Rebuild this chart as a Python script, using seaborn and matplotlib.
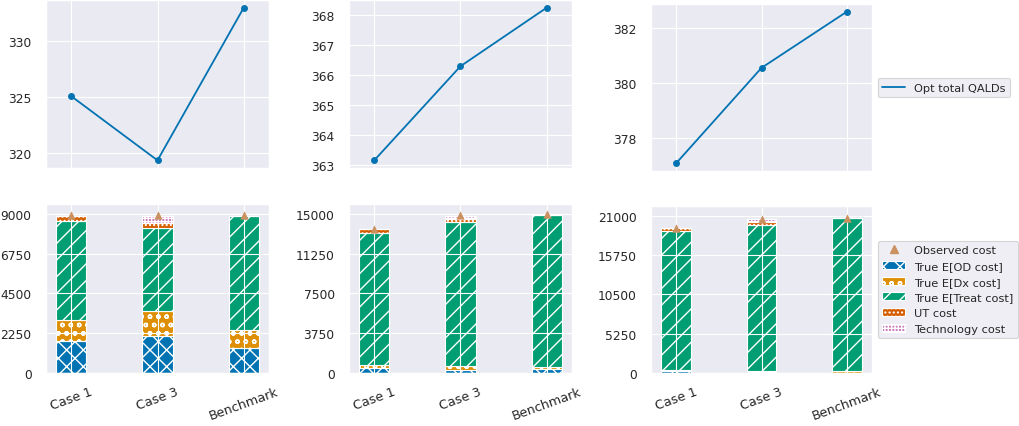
import numpy as np
import matplotlib
matplotlib.use("Agg")
import matplotlib.pyplot as plt
from matplotlib.patches import Patch
from matplotlib.lines import Line2D
from matplotlib.ticker import FormatStrFormatter
import seaborn as sns

cases = ["Case 1", "Case 3", "Benchmark"]

# Optimal total QALDs for each of the three scenario panels
qalds_a = [325.10, 319.35, 333.03]
qalds_b = [363.15, 366.30, 368.26]
qalds_c = [377.07, 380.55, 382.60]

# Cost components, stacked bottom to top
od_cost_a = [1830, 2113, 1434]
dx_cost_a = [1189, 1378, 1000]
treat_cost_a = [5567, 4699, 6473]
ut_cost_a = [321, 301, 0]
tech_cost_a = [0, 416, 0]
observed_a = [8960, 8950, 8950]

od_cost_b = [442, 330, 347]
dx_cost_b = [348, 302, 253]
treat_cost_b = [12442, 13579, 14274]
ut_cost_b = [348, 316, 0]
tech_cost_b = [0, 316, 30]
observed_b = [13560, 14900, 14950]

od_cost_c = [230, 200, 40]
dx_cost_c = [120, 100, 230]
treat_cost_c = [18655, 19502, 20417]
ut_cost_c = [355, 355, 0]
tech_cost_c = [0, 443, 50]
observed_c = [19380, 20580, 20700]

cost_tick_max = [9000, 15000, 21000]

component_labels = ["True E[OD cost]", "True E[Dx cost]", "True E[Treat cost]",
                    "UT cost", "Technology cost"]

panels = [
    (qalds_a, [od_cost_a, dx_cost_a, treat_cost_a, ut_cost_a, tech_cost_a], observed_a),
    (qalds_b, [od_cost_b, dx_cost_b, treat_cost_b, ut_cost_b, tech_cost_b], observed_b),
    (qalds_c, [od_cost_c, dx_cost_c, treat_cost_c, ut_cost_c, tech_cost_c], observed_c),
]

sns.set_theme(context="paper", style="darkgrid", palette="colorblind")
pal = sns.color_palette("colorblind")
comp_colors = [pal[0], pal[1], pal[2], pal[3], pal[4]]
comp_hatches = ["xx", "oo", "//", "....", "+++++"]
obs_color = pal[5]
line_color = pal[0]

W, H = 1020, 427
fig = plt.figure(figsize=(W / 100, H / 100), dpi=100)


def px_axes(l, t, r, b):
    return fig.add_axes([l / W, 1 - b / H, (r - l) / W, (b - t) / H])


top_boxes = [(46, 1, 269, 169), (349, 1, 572, 169), (651, 5, 872, 172)]
bot_boxes = [(46, 205, 269, 374), (349, 205, 572, 374), (651, 207, 872, 374)]

bar_width = 0.35
n = len(cases)
pad = 0.05 * (n - 1 + bar_width)
xlim = (-bar_width / 2 - pad, n - 1 + bar_width / 2 + pad)

top_axes, bot_axes = [], []
for (qalds, comps, observed), tb, bb, tmax in zip(panels, top_boxes, bot_boxes, cost_tick_max):
    ax_t = px_axes(*tb)
    sns.pointplot(x=cases, y=qalds, color=line_color, markersize=4, linewidth=1.3,
                  errorbar=None, ax=ax_t)
    ax_t.xaxis.grid(True)
    ax_t.set_xlim(xlim)
    ax_t.tick_params(axis="x", labelbottom=False)
    ax_t.tick_params(axis="y", pad=5.5)
    ax_t.set_xlabel("")
    ax_t.set_ylabel("")
    top_axes.append(ax_t)

    ax_b = px_axes(*bb)
    bottom = np.zeros(n)
    for vals, color, hatch in zip(comps, comp_colors, comp_hatches):
        sns.barplot(x=cases, y=vals, bottom=bottom, color=color, saturation=1,
                    width=bar_width, hatch=hatch, edgecolor="white", linewidth=0.8,
                    errorbar=None, ax=ax_b)
        bottom = bottom + np.asarray(vals, dtype=float)
    sns.stripplot(x=cases, y=observed, marker="^", color=obs_color, size=6,
                  jitter=False, linewidth=0, zorder=4, ax=ax_b)
    ax_b.set_axisbelow(False)
    ax_b.xaxis.grid(True)
    ax_b.set_xlim(xlim)
    ax_b.set_yticks(np.linspace(0, tmax, 5))
    ax_b.set_ylim(0, tmax + tmax / 4 / 4)
    ax_b.yaxis.set_major_formatter(FormatStrFormatter("%d"))
    ax_b.tick_params(axis="x", labelrotation=20, labelsize=9.2)
    ax_b.tick_params(axis="y", pad=5.5)
    ax_b.set_xlabel("")
    ax_b.set_ylabel("")
    bot_axes.append(ax_b)

line_handle = Line2D([], [], color=line_color, linewidth=1.3)
top_axes[-1].legend([line_handle], ["Opt total QALDs"], loc="center left",
                    bbox_to_anchor=(1.0, 0.5), fontsize=8.2)

obs_handle = Line2D([], [], linestyle="none", marker="^", color=obs_color, markersize=6)
patch_handles = [Patch(facecolor=c, edgecolor="white", hatch=h, linewidth=0.8)
                 for c, h in zip(comp_colors, comp_hatches)]
bot_axes[-1].legend([obs_handle] + patch_handles, ["Observed cost"] + component_labels,
                    loc="center left", bbox_to_anchor=(1.0, 0.5), fontsize=8.2,
                    labelspacing=0.5)

fig.savefig("out.png", dpi=100)
